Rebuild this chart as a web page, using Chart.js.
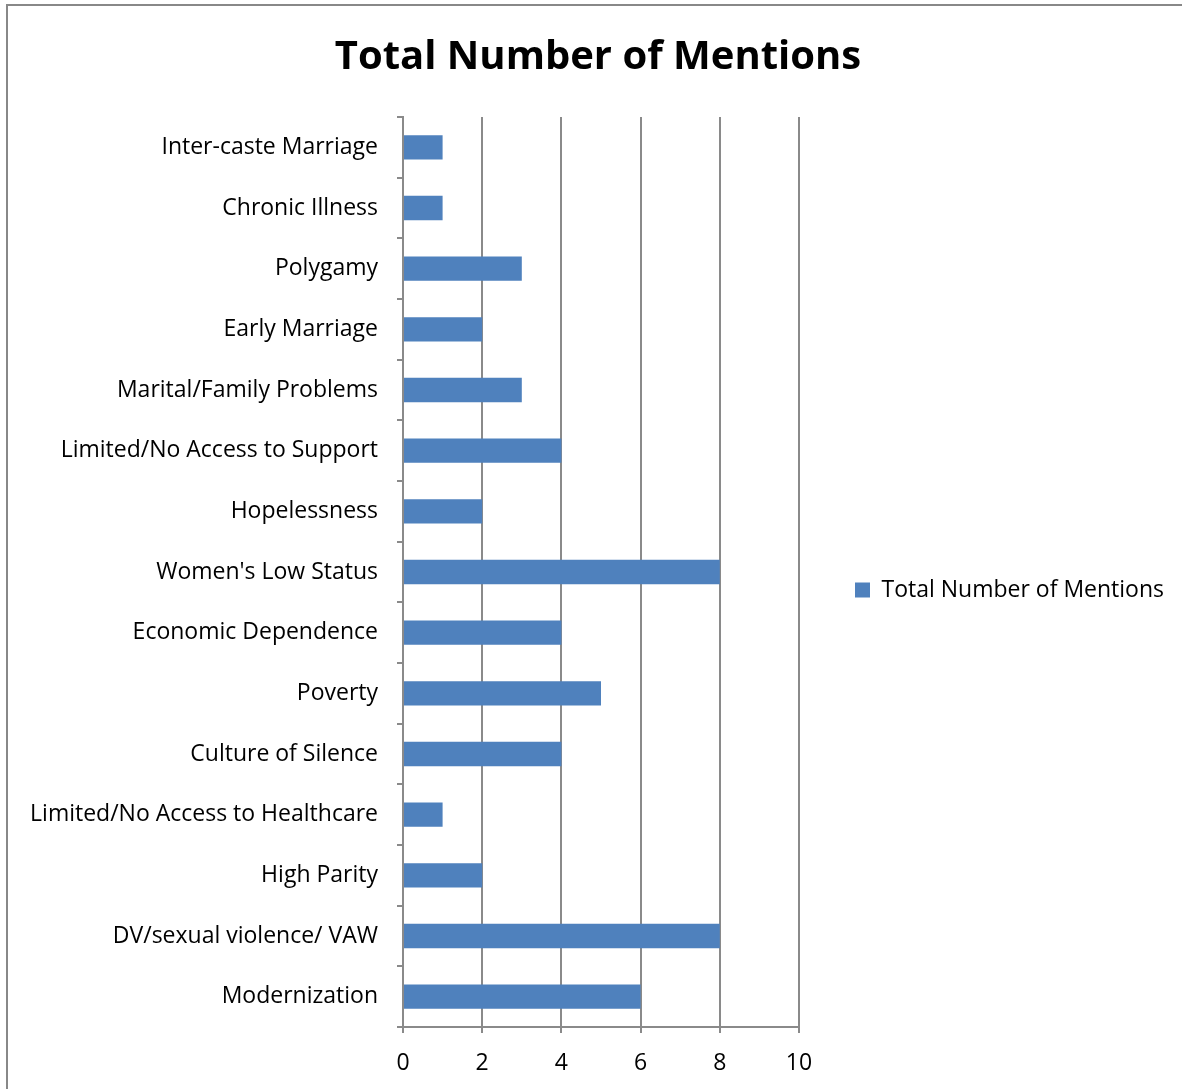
<!DOCTYPE html>
<html>
<head>
<meta charset="utf-8">
<script src="https://cdn.jsdelivr.net/npm/chart.js@4.4.1/dist/chart.umd.min.js"></script>
<style>
  html, body { margin: 0; padding: 0; background: #fff; overflow: hidden; width: 1182px; height: 1089px; }
  #frame { position: absolute; left: 6px; top: 4px; width: 1200px; height: 1100px; border-left: 2px solid #888; border-top: 2px solid #888; }
  #c { position: absolute; left: 8px; top: 6px; }
</style>
</head>
<body>
<div id="frame"></div>
<canvas id="c" width="1174" height="1083"></canvas>
<script>
const categories = [
  "Inter-caste Marriage",
  "Chronic Illness",
  "Polygamy",
  "Early Marriage",
  "Marital/Family Problems",
  "Limited/No Access to Support",
  "Hopelessness",
  "Women's Low Status",
  "Economic Dependence",
  "Poverty",
  "Culture of Silence",
  "Limited/No Access to Healthcare",
  "High Parity",
  "DV/sexual violence/ VAW",
  "Modernization"
];
const mentions = [1, 1, 3, 2, 3, 4, 2, 8, 4, 5, 4, 1, 2, 8, 6];
const xTicks = [0, 2, 4, 6, 8, 10];
const seriesName = "Total Number of Mentions";
const chartTitle = "Total Number of Mentions";

const FONT = "'Open Sans', 'Noto Sans', sans-serif";
const GRID = '#8a8a8a';

const legendWidthPlugin = {
  id: 'legendWidth',
  afterInit(chart) {
    const lg = chart.legend;
    const f = lg.fit.bind(lg);
    lg.fit = function () { f(); lg.width = 383; };
  }
};

new Chart(document.getElementById('c'), {
  type: 'bar',
  data: {
    labels: categories,
    datasets: [{
      label: seriesName,
      data: mentions,
      backgroundColor: '#4f81bd',
      borderWidth: 0,
      categoryPercentage: 1.0,
      barPercentage: 0.4
    }]
  },
  options: {
    indexAxis: 'y',
    responsive: false,
    animation: false,
    layout: { padding: { left: 6, right: 0, top: 0, bottom: 0 } },
    plugins: {
      title: {
        display: true,
        text: chartTitle,
        color: '#000',
        font: { family: FONT, size: 40, weight: 'bold', lineHeight: 1.2 },
        padding: { top: 28, bottom: 35 }
      },
      legend: {
        display: true,
        position: 'right',
        fullSize: false,
        align: 'center',
        title: { display: true, text: ' ', font: { size: 20, lineHeight: 1.2 }, padding: { top: 6, bottom: 6 } },
        labels: {
          boxWidth: 15,
          boxHeight: 15,
          padding: 56,
          color: '#000',
          font: { family: FONT, size: 23 }
        }
      },
      tooltip: { enabled: false }
    },
    scales: {
      x: {
        type: 'linear',
        min: 0,
        max: 10,
        afterBuildTicks(scale) { scale.ticks = xTicks.map(v => ({ value: v })); },
        afterFit(scale) { scale.height = 62; },
        grid: { color: GRID, lineWidth: 2, tickLength: 6, drawTicks: true },
        border: { display: true, color: GRID, width: 2 },
        ticks: { color: '#000', padding: 17, font: { family: FONT, size: 23 }, maxRotation: 0 }
      },
      y: {
        type: 'category',
        offset: true,
        afterFit(scale) { scale.width = 389; },
        grid: { display: true, drawOnChartArea: false, offset: true, color: GRID, lineWidth: 2, tickLength: 6 },
        border: { display: true, color: GRID, width: 2 },
        ticks: { color: '#000', padding: 19, font: { family: FONT, size: 23 }, autoSkip: false }
      }
    }
  },
  plugins: [legendWidthPlugin]
});
</script>
</body>
</html>
